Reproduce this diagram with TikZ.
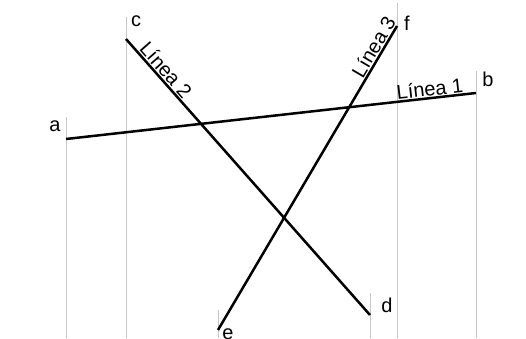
\documentclass[tikz,border=0pt]{standalone}
\usepackage{fontspec}
\setmainfont{Liberation Sans}
\begin{document}
\begin{tikzpicture}[x=1pt,y=1pt,
  guide/.style={draw=black!22, line width=0.9pt},
  segline/.style={draw=black, line width=2.5pt},
  ptlabel/.style={inner sep=0pt, font=\fontsize{20}{22}\selectfont},
  linelabel/.style={inner sep=1pt, font=\fontsize{20}{22}\selectfont, sloped, above}]
\useasboundingbox (0,0) rectangle (526,338);
% points
\coordinate (a) at (66,199);
\coordinate (b) at (476,245);
\coordinate (c) at (126,299);
\coordinate (d) at (370,23);
\coordinate (e) at (218,8);
\coordinate (f) at (397,312);
% guide tops and bottoms
\coordinate (at) at (66,221);   \coordinate (ab) at (66,0);
\coordinate (ct) at (126,321);  \coordinate (cb) at (126,0);
\coordinate (bt) at (476,267);  \coordinate (bb) at (476,0);
\coordinate (ft) at (397,335);  \coordinate (fb) at (397,0);
\coordinate (dt) at (370,45);   \coordinate (db) at (370,0);
\coordinate (et) at (218,28);   \coordinate (eb) at (218,0);
\draw[guide] (at) -- (ab);
\draw[guide] (ct) -- (cb);
\draw[guide] (bt) -- (bb);
\draw[guide] (ft) -- (fb);
\draw[guide] (dt) -- (db);
\draw[guide] (et) -- (eb);
% lines
\draw[segline] (a) -- node[linelabel, pos=0.89] (l1) {Línea 1} (b);
\draw[segline] (c) -- node[linelabel, pos=0.135] (l2) {Línea 2} (d);
\draw[segline] (e) -- node[linelabel, pos=0.915] (l3) {Línea 3} (f);
% point labels
\node[ptlabel] (la) at (55,212) {a};
\node[ptlabel] (lb) at (488,259) {b};
\node[ptlabel] (lc) at (136,317) {c};
\node[ptlabel] (ld) at (387,33) {d};
\node[ptlabel] (le) at (228,4) {e};
\node[ptlabel] (lf) at (407,315) {f};
\end{tikzpicture}
\end{document}
